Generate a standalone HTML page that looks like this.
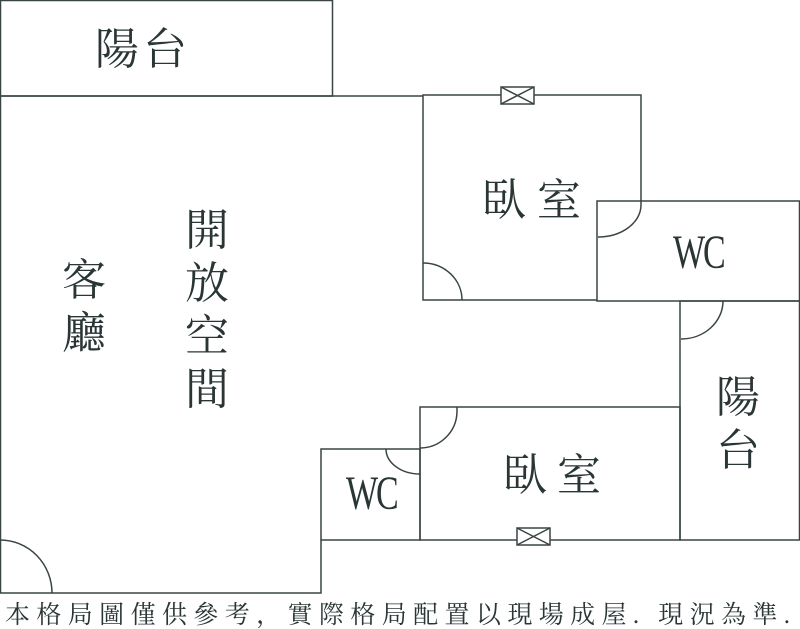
<!DOCTYPE html>
<html><head><meta charset="utf-8"><style>
html,body{margin:0;padding:0;background:#fff;}
svg{display:block;}
text{font-family:"Liberation Serif","Noto Serif CJK SC","Noto Sans CJK TC",serif;fill:#2a3535;}
</style></head><body>
<svg width="800" height="629" viewBox="0 0 800 629" xmlns="http://www.w3.org/2000/svg">
<g fill="none" stroke="#3a4444" stroke-width="1.5">
<rect x="0.5" y="0.5" width="332" height="95.5"/>
<polyline points="423,96 0.5,96 0.5,593 321,593 321,540"/>
<rect x="321" y="449" width="99" height="91"/>
<rect x="420" y="407" width="260" height="133"/>
<rect x="680" y="301" width="119.5" height="239"/>
<rect x="597" y="201" width="202.5" height="100"/>
<polyline points="597,300 423,300 423,95 641,95 641,201"/>
<rect x="501" y="87" width="33" height="17" fill="#fff"/>
<path d="M501,87 L534,104 M534,87 L501,104"/>
<rect x="517" y="528" width="33" height="17" fill="#fff"/>
<path d="M517,528 L550,545 M550,528 L517,545"/>
<path d="M423,263 A39,37 0 0 1 462,300"/>
<path d="M641,200 L641,205 A43,32 0 0 1 598,237"/>
<path d="M723,301 A42,38 0 0 1 681,339"/>
<path d="M457,407 L457,412 A37,37 0 0 1 420,448"/>
<path d="M386,449 A34,25 0 0 0 420,474"/>
<path d="M0,540 A52,53 0 0 1 52,593"/>
</g>
<g font-size="44">
<text x="95" y="64">陽</text><text x="143" y="64">台</text>
<text x="62" y="295">客</text><text x="62" y="348">廳</text>
<text x="185" y="245">開</text><text x="185" y="298">放</text><text x="185" y="351">空</text><text x="185" y="404">間</text>
<text x="482" y="215">臥</text><text x="537" y="215">室</text>
<text x="716" y="412">陽</text><text x="716" y="465">台</text>
<text x="503" y="490">臥</text><text x="557" y="490">室</text>
</g>
<g font-size="40">
<text transform="translate(673,268) scale(0.85,1.2)" textLength="62" lengthAdjust="spacing">WC</text>
<text transform="translate(346,509) scale(0.85,1.2)" textLength="62" lengthAdjust="spacing">WC</text>
</g>
<text x="5" y="623" font-size="25" textLength="785" lengthAdjust="spacing">本格局圖僅供參考，實際格局配置以現場成屋. 現況為準.</text>
</svg>
</body></html>
